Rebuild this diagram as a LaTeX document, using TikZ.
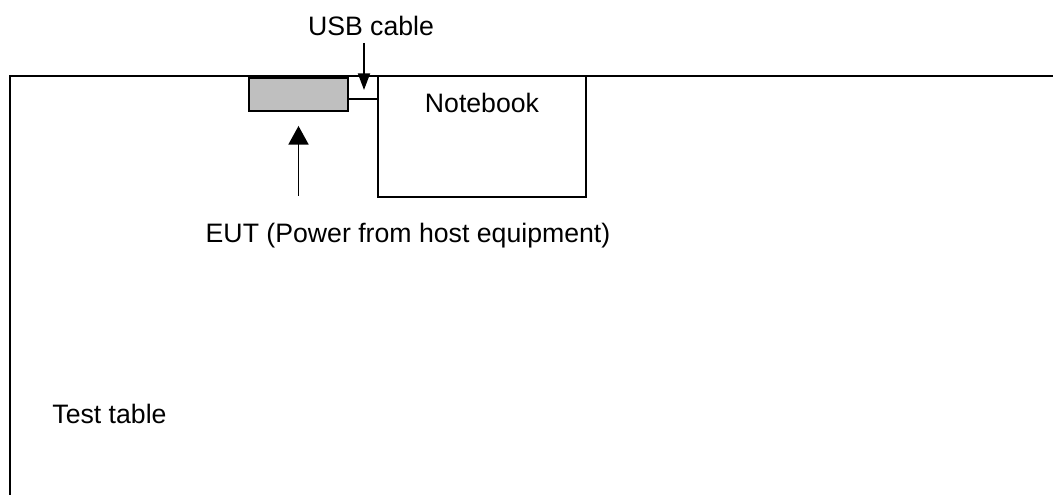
\documentclass[tikz,border=0pt]{standalone}
\usepackage{fontspec}
\setmainfont{Liberation Sans}
\usepackage{tikz}
\usetikzlibrary{positioning,arrows.meta}

\begin{document}
\begin{tikzpicture}[
    x=0.75pt, y=-0.75pt,
    line width=1.4pt,
    lbl/.style    ={font=\fontsize{20}{24}\selectfont, inner sep=0pt, anchor=base},
    device/.style ={draw, inner sep=0pt},
    eutbox/.style ={device, fill=black!25, minimum width=74pt, minimum height=24.75pt},
    pcbox/.style  ={device, minimum width=156pt, minimum height=90.75pt},
    arr/.style    ={-{Triangle[length=14pt, width=15pt]}},
    thinarr/.style={-{Triangle[length=12.5pt, width=9pt]}}
  ]
    \useasboundingbox (0,0) rectangle (1053,495);

    % --- test table (open to the right and bottom) ---
    \coordinate (tl) at (10,76);
    \draw (tl |- 0,495) -- (tl) -- (1053,76);
    \node[lbl] (table) at (109.5,423) {Test table};

    % --- devices ---
    \node[eutbox] (eut) at (298.5,94.5) {};
    \node[pcbox]  (nb)  at (482,136.5) {};
    \node[lbl] (nblab) at (482,113) {Notebook};
    \coordinate (plug) at (348,99);
    \draw (plug) -- (nb.west |- plug);

    % --- labels and arrows ---
    \node[lbl] (usb) at (371,36) {USB cable};
    \coordinate (usbtip) at (364,90);
    \draw[thinarr] (usbtip |- 0,43) -- (usbtip);

    \node[lbl] (eutlab) at (408,243) {EUT (Power from host equipment)};
    \coordinate (eutfoot) at (298.5,196);
    \draw[arr] (eutfoot) -- ([yshift=-10.5pt]eut.south);
\end{tikzpicture}
\end{document}
